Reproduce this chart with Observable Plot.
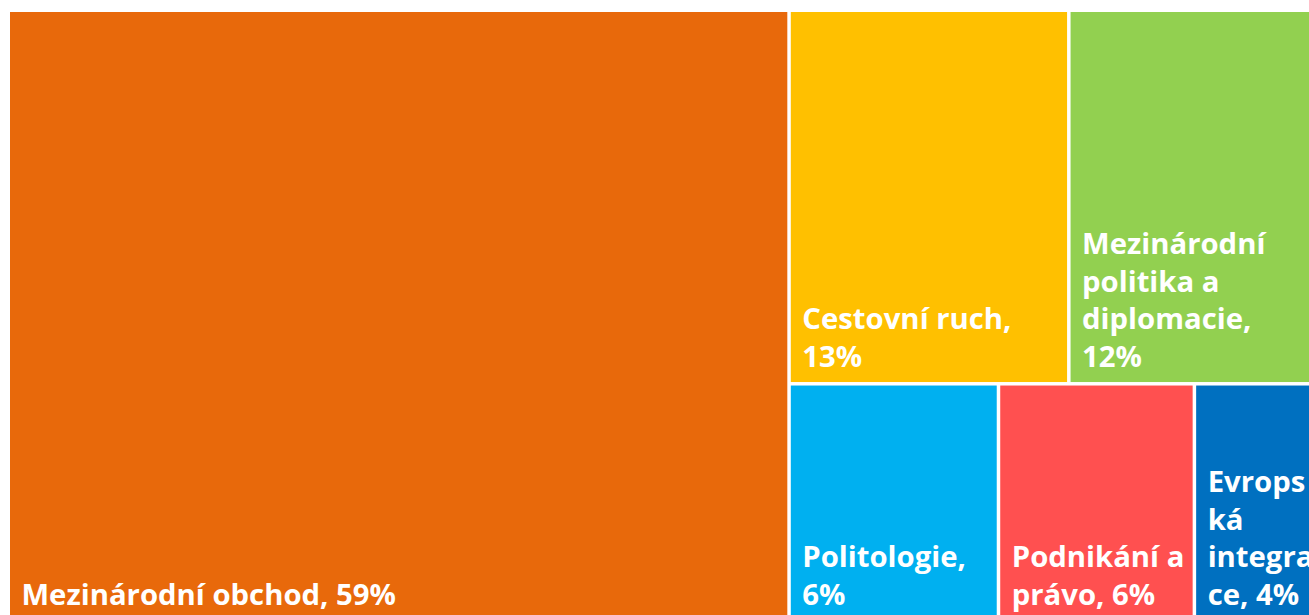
<!DOCTYPE html>
<html>
<head>
<meta charset="utf-8">
<script src="https://cdn.jsdelivr.net/npm/d3@7"></script>
<script src="https://cdn.jsdelivr.net/npm/@observablehq/plot@0.6"></script>
<style>
  html, body { margin: 0; padding: 0; background: #fff; overflow: hidden; }
  #chart svg { display: block; max-width: none; }
</style>
</head>
<body>
<div id="chart"></div>
<script>
// ---- data ----
const categories = ["Mezinárodní obchod", "Cestovní ruch", "Mezinárodní politika a diplomacie", "Politologie", "Podnikání a právo", "Evropská integrace"];
const values = [59.4, 13.0, 11.8, 6.2, 5.8, 3.8];
const labels = [
  "Mezinárodní obchod, 59%",
  "Cestovní ruch,\n13%",
  "Mezinárodní\npolitika a\ndiplomacie,\n12%",
  "Politologie,\n6%",
  "Podnikání a\nprávo, 6%",
  "Evrops\nká\nintegra\nce, 4%"
];
const groupLevel1 = ["main", "side", "side", "side", "side", "side"];
const groupLevel2 = [null, "top", "top", "bottom", "bottom", "bottom"];
const colors = ["#E8690B", "#FFC000", "#92D050", "#00B0F0", "#FF5050", "#0070C0"];

// ---- build hierarchy ----
function buildTree() {
  const root = {name: "root", children: []};
  categories.forEach((c, i) => {
    const leaf = {name: c, value: values[i], label: labels[i], color: colors[i]};
    const count1 = groupLevel1.filter(g => g === groupLevel1[i]).length;
    const path = count1 > 1 ? [groupLevel1[i], groupLevel2[i]].filter(p => p != null) : [];
    let node = root;
    for (const key of path) {
      let child = node.children.find(ch => ch.name === key && ch.children);
      if (!child) { child = {name: key, children: []}; node.children.push(child); }
      node = child;
    }
    node.children.push(leaf);
  });
  return root;
}

const W = 1311, H = 608, X0 = 10, Y0 = 12;
const root = d3.hierarchy(buildTree()).sum(d => d.value || 0);
d3.treemap().tile(d3.treemapSliceDice).size([W, H]).paddingInner(3.5).round(false)(root);
const leaves = root.leaves().map(d => ({
  ...d.data,
  x0: X0 + d.x0, x1: X0 + d.x1, y0: Y0 + d.y0, y1: Y0 + d.y1
}));

const chart = Plot.plot({
  width: 1309,
  height: 615,
  margin: 0,
  x: {domain: [0, 1309], range: [0, 1309], axis: null},
  y: {domain: [0, 615], range: [0, 615], axis: null},
  marks: [
    Plot.rect(leaves, {x1: "x0", x2: "x1", y1: "y0", y2: "y1", fill: "color"}),
    Plot.text(leaves, {
      x: "x0", y: "y1", text: "label",
      textAnchor: "start", lineAnchor: "bottom",
      dx: 11, dy: -16,
      fill: "white", fontSize: 29.3, fontWeight: "bold",
      fontFamily: "Open Sans", lineHeight: 1.28
    })
  ]
});
chart.style.overflow = "hidden";
document.getElementById("chart").appendChild(chart);
</script>
</body>
</html>
